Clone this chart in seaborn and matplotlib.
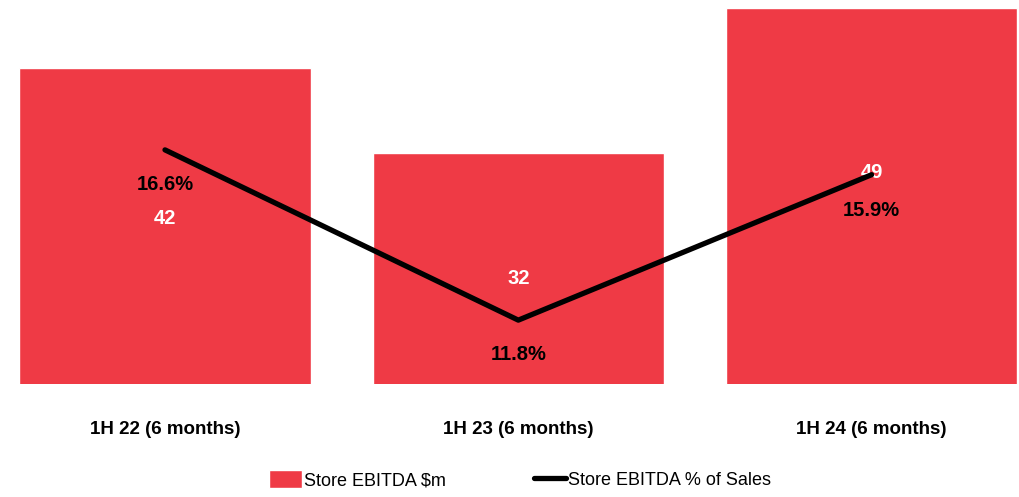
import matplotlib
matplotlib.use("Agg")
import matplotlib.pyplot as plt
import seaborn as sns
from matplotlib.patches import Patch
from matplotlib.lines import Line2D

# chart data
periods = ["1H 22 (6 months)", "1H 23 (6 months)", "1H 24 (6 months)"]
ebitda_m = [42, 32, 49]
ebitda_pct = [16.6, 11.8, 15.9]
bar_labels = ["42", "32", "49"]
pct_labels = ["16.6%", "11.8%", "15.9%"]

red = "#EF3A45"

sns.set_theme(style="white")
plt.rcParams["font.family"] = ["Liberation Sans", "DejaVu Sans"]

fig = plt.figure(figsize=(10.2, 4.97), dpi=100)
ax = fig.add_axes([0, 0.2274, 1, 0.7565])

sns.barplot(x=periods, y=ebitda_m, color=red, width=0.824, saturation=1, ax=ax)
ax.set_xlim(-0.467, 2.42)
ax.set_ylim(5, 49.0)

ax2 = ax.twinx()
sns.lineplot(x=[0, 1, 2], y=ebitda_pct, color="black", linewidth=3.8, ax=ax2,
             solid_capstyle="round")
ax2.set_ylim(10, 20.6)

# value labels
bar_label_y = [219, 278, 172]   # pixel rows from the top of the figure
pct_label_y = [185, 355, 211]
for i in range(3):
    ax.annotate(bar_labels[i], xy=(i, ebitda_m[i]), xycoords="data",
                xytext=(i, 1 - bar_label_y[i] / 497), textcoords=("data", "figure fraction"),
                ha="center", va="center", color="white", fontsize=14.5, fontweight="bold")
    ax.annotate(pct_labels[i], xy=(i, ebitda_m[i]), xycoords="data",
                xytext=(i, 1 - pct_label_y[i] / 497), textcoords=("data", "figure fraction"),
                ha="center", va="center", color="black", fontsize=14.5, fontweight="bold")

for a in (ax, ax2):
    for s in a.spines.values():
        s.set_visible(False)
    a.set_yticks([])
    a.set_ylabel("")
ax.tick_params(axis="x", length=0, pad=27, labelsize=13.5, labelcolor="black")
for t in ax.get_xticklabels():
    t.set_fontweight("bold")

handles = [Patch(facecolor=red, label="Store EBITDA $m"),
           Line2D([0], [0], color="black", linewidth=3.8, label="Store EBITDA % of Sales")]
fig.legend(handles=handles, loc="center", bbox_to_anchor=(0.51, 0.035), ncol=2,
           frameon=False, fontsize=13, handlelength=1.8, handleheight=1.2,
           handletextpad=0.1, columnspacing=4.9, labelcolor="black")

fig.savefig("out.png", dpi=100)
